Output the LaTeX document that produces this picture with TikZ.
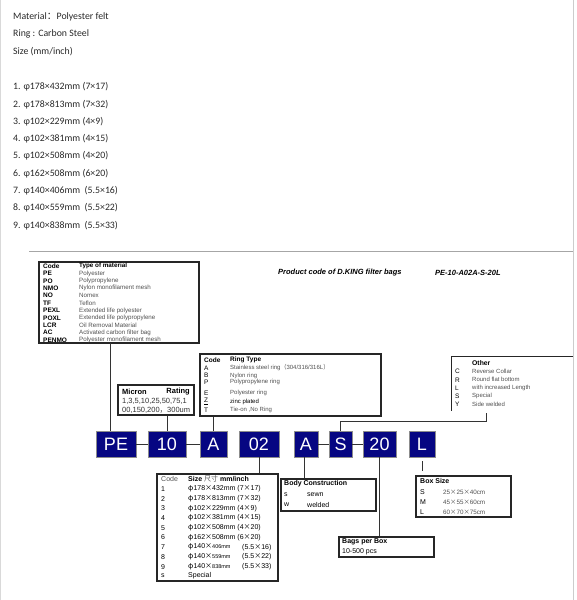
\documentclass[tikz,border=0pt]{standalone}
\usepackage{fontspec}
\setmainfont{Liberation Sans}
\newfontfamily\calfont{Carlito}
\newfontfamily\cjk{Noto Sans CJK SC}
\definecolor{navybox}{RGB}{6,6,130}
\definecolor{desc}{RGB}{80,80,80}
\definecolor{toptext}{RGB}{40,40,40}
\newcommand{\mytimes}{{\cjk ×}}
\newcommand{\myphi}{{\cjk φ}}
\begin{document}
\begin{tikzpicture}[x=1pt,y=-1pt,
  toptxt/.style={anchor=west,inner sep=0pt,text=toptext,font=\calfont\fontsize{9.8}{11}\selectfont},
  codebox/.style={fill=navybox,draw=black!45,line width=0.8pt,text=white,inner sep=0pt,minimum height=26pt,font=\fontsize{18}{18}\selectfont},
  infobox/.style={draw=black!85,line width=1.2pt,inner sep=0pt},
  conn/.style={draw=black!80,line width=0.8pt},
  tx/.style={anchor=west,inner sep=0pt,font=\fontsize{6}{7}\selectfont},
  txd/.style={tx,text=desc},
  txb/.style={anchor=west,inner sep=0pt,font=\bfseries\fontsize{7}{8}\selectfont},
  tx7/.style={anchor=west,inner sep=0pt,font=\fontsize{7}{8}\selectfont},
  title/.style={anchor=west,inner sep=0pt,font=\bfseries\itshape\fontsize{7.5}{9}\selectfont}]
\useasboundingbox (0,0) rectangle (576,600);
% page edges
\draw[black!15,line width=0.8pt] (0.5,0) -- (0.5,600);
\draw[black!20,line width=0.8pt] (573.5,0) -- (573.5,600);

% ---------- top text ----------
\node[toptxt] (t1) at (13,17) {Material{\cjk ：}Polyester felt};
\node[toptxt] (t2) at (13,34) {Ring : Carbon Steel};
\node[toptxt] (t3) at (13,51.5) {Size (mm/inch)};
\foreach \s [count=\i] in {178×432mm (7×17),178×813mm (7×32),102×229mm (4×9),102×381mm (4×15),102×508mm (4×20),162×508mm (6×20),140×406mm\ \ (5.5×16),140×559mm\ \ (5.5×22),140×838mm\ \ (5.5×33)}
  \node[toptxt] (li\i) at (13,{87+17.3*(\i-1)}) {\i. φ\s};

% separator
\draw[black!35,line width=0.8pt] (29,251) -- (573,251);

% ---------- title ----------
\node[title] (ttl) at (278,273) {Product code of D.KING filter bags};
\node[title] (ttl2) at (435,273) {PE-10-A02A-S-20L};

% ---------- code boxes ----------
\node[codebox,minimum width=40pt] (pe) at (116,444) {PE};
\node[codebox,minimum width=38pt] (ten) at (167,444) {10};
\node[codebox,minimum width=27pt] (a1) at (213.5,444) {A};
\node[codebox,minimum width=40pt] (two) at (259,444) {02};
\node[codebox,minimum width=24pt] (a2) at (306,444) {A};
\node[codebox,minimum width=23pt] (s) at (340.5,444) {S};
\node[codebox,minimum width=33pt] (twenty) at (379.5,444) {20};
\node[codebox,minimum width=26pt] (l) at (422,444) {L};
\draw[conn] (pe) -- (ten);
\draw[conn] (ten) -- (a1);
\draw[conn] (a2) -- (s);
\draw[conn] (s) -- (twenty);

% ---------- material box ----------
\coordinate (matnw) at (39,262);
\coordinate (matse) at (199,343);
\draw[infobox] (matnw) rectangle (matse);
\node[anchor=west,inner sep=0pt,font=\bfseries\fontsize{6.5}{7}\selectfont] (mh1) at (43,266) {Code};
\node[anchor=west,inner sep=0pt,font=\bfseries\fontsize{6.3}{7}\selectfont] (mh2) at (79,266) {Type of material};
\foreach \c/\d [count=\i] in {PE/Polyester,PO/Polypropylene,NMO/Nylon monofilament mesh,NO/Nomex,TF/Teflon,PEXL/Extended life polyester,POXL/Extended life polypropylene,LCR/Oil Removal Material,AC/Activated carbon filter bag,PENMO/Polyester monofilament mesh}{
  \node[anchor=west,inner sep=0pt,font=\bfseries\fontsize{6.5}{7}\selectfont] (mc\i) at (43,{266+7.4*\i}) {\c};
  \node[txd,font=\fontsize{6.2}{7}\selectfont] (md\i) at (79,{266+7.4*\i}) {\d};
}
\draw[conn] ([xshift=-6pt]pe.north) -- ([xshift=-6pt]pe.north |- matse);

% ---------- micron box ----------
\node[infobox,minimum width=76pt,minimum height=30pt] (micbox) at (156,400) {};
\node[txb,font=\bfseries\fontsize{7.5}{8}\selectfont] (mi1) at (122,392) {Micron};
\node[anchor=east,inner sep=0pt,font=\bfseries\fontsize{7.5}{8}\selectfont] (mi2) at (190,392) {Rating};
\node[anchor=west,inner sep=0pt,font=\fontsize{7.5}{8}\selectfont,text=black!80] (mi3) at (122,401) {1,3,5,10,25,50,75,1};
\node[anchor=west,inner sep=0pt,font=\fontsize{7.5}{8}\selectfont,text=black!80] (mi4) at (122,410) {00,150,200{\cjk ，}300um};
\draw[conn] (ten.north) -- (ten.north |- micbox.south);

% ---------- ring type box ----------
\node[infobox,minimum width=181pt,minimum height=62pt] (ringbox) at (290.5,385) {};
\node[txb,font=\bfseries\fontsize{6.5}{7}\selectfont] (rh1) at (204,360) {Code};
\node[txb,font=\bfseries\fontsize{6.5}{7}\selectfont] (rh2) at (230,360) {Ring Type};
\node[tx,font=\fontsize{6.5}{7}\selectfont] (rc1) at (204,368) {A};
\node[txd] (rd1) at (230,368) {Stainless steel ring{\cjk （}304/316/316L{\cjk ）}};
\node[tx,font=\fontsize{6.5}{7}\selectfont] (rc2) at (204,375.5) {B};
\node[txd] (rd2) at (230,375.5) {Nylon ring};
\node[tx,font=\fontsize{6.5}{7}\selectfont] (rc3) at (204,382) {P};
\node[txd] (rd3) at (230,382) {Polypropylene ring};
\node[tx,font=\fontsize{6.5}{7}\selectfont] (rc4) at (204,393) {E};
\node[txd] (rd4) at (230,393) {Polyester ring};
\node[tx,font=\fontsize{6.5}{7}\selectfont] (rc5) at (204,401.5) {\underline{Z}};
\node[tx] (rd5) at (230,402) {zinc plated};
\node[tx,font=\fontsize{6.5}{7}\selectfont] (rc6) at (204,410) {T};
\node[txd] (rd6) at (230,410) {Tie-on ,No Ring};
\draw[conn] (a1.north) -- (a1.north |- ringbox.south);

% ---------- other box ----------
\node[inner sep=0pt,minimum width=121pt,minimum height=54pt] (otherbox) at (512.5,384) {};
\draw[infobox] (otherbox.north east) -- (otherbox.north west) -- (otherbox.south west);
\node[txb,font=\bfseries\fontsize{6.8}{7}\selectfont] (oh) at (472,363) {Other};
\foreach \c/\d [count=\i] in {C/Reverse Collar,R/Round flat bottom,L/with increased Length,S/Special,Y/Side welded}{
  \node[tx,font=\fontsize{6.5}{7}\selectfont] (oc\i) at (455,{371.5+8.3*(\i-1)}) {\c};
  \node[txd] (od\i) at (472,{371.5+8.3*(\i-1)}) {\d};
}
\coordinate (brk) at (486,413);
\draw[conn] (s.north) -- ++(0,-9) -| (brk);

% ---------- size box ----------
\node[infobox,minimum width=121pt,minimum height=107pt] (sizebox) at (217.5,527.5) {};
\node[tx7,text=desc] (sh1) at (161,479) {Code};
\node[tx7] (sh2) at (188,479) {\textbf{Size} {\cjk\color{desc}尺寸} \textbf{mm/inch}};
\foreach \c/\d [count=\i] in {1/178\mytimes432mm (7\mytimes17),2/178\mytimes813mm (7\mytimes32),3/102\mytimes229mm (4\mytimes9),4/102\mytimes381mm (4\mytimes15),5/102\mytimes508mm (4\mytimes20),6/162\mytimes508mm (6\mytimes20)}{
  \node[tx7] (sc\i) at (161,{489+9.7*(\i-1)}) {\c};
  \node[tx7] (sd\i) at (188,{489+9.7*(\i-1)}) {\myphi\d};
}
\foreach \c/\d/\e [count=\i from 7] in {7/406/16,8/559/22,9/838/33}{
  \node[tx7] (sc\i) at (161,{489+9.7*(\i-1)}) {\c};
  \node[tx7] (sd\i) at (188,{489+9.7*(\i-1)}) {\myphi140\mytimes{\fontsize{5.5}{6}\selectfont\d mm}};
  \node[tx7] (se\i) at (242,{489+9.7*(\i-1)}) {(5.5\mytimes\e)};
}
\node[tx7] (sc10) at (161,576) {s};
\node[tx7] (sd10) at (188,576) {Special};
\draw[conn] (two.south) -- (two.south |- sizebox.north);

% ---------- body construction ----------
\node[infobox,minimum width=95pt,minimum height=32pt] (bodybox) at (328.5,495) {};
\node[txb] (bh) at (284,484) {Body Construction};
\node[tx7] (bc1) at (284,495) {s};
\node[tx7] (bd1) at (307,495) {sewn};
\node[tx7] (bc2) at (284,505) {w};
\node[tx7] (bd2) at (307,505) {welded};
\draw[conn] ([xshift=-2pt]a2.south) -- ([xshift=-2pt]a2.south |- bodybox.north);

% ---------- bags per box ----------
\node[infobox,minimum width=95pt,minimum height=20pt] (bagsbox) at (386.5,547) {};
\node[txb] (gh) at (342,541.5) {Bags per Box};
\node[tx7] (gd) at (342,551.5) {10-500 pcs};
\draw[conn] (twenty.south) -- (twenty.south |- bagsbox.north);

% ---------- box size ----------
\node[infobox,minimum width=95pt,minimum height=41pt] (boxbox) at (463.5,496.5) {};
\node[txb] (xh) at (420,481) {Box Size};
\foreach \c/\d [count=\i] in {S/25\mytimes25\mytimes40cm,M/45\mytimes55\mytimes60cm,L/60\mytimes70\mytimes75cm}{
  \node[tx7] (xc\i) at (420,{492+10*(\i-1)}) {\c};
  \node[tx,text=desc,font=\fontsize{6.3}{7}\selectfont] (xd\i) at (443,{492+10*(\i-1)}) {\d};
}
\draw[conn] ([yshift=-4pt]l.south) -- ([yshift=4pt]l.south |- boxbox.north);
\end{tikzpicture}
\end{document}
